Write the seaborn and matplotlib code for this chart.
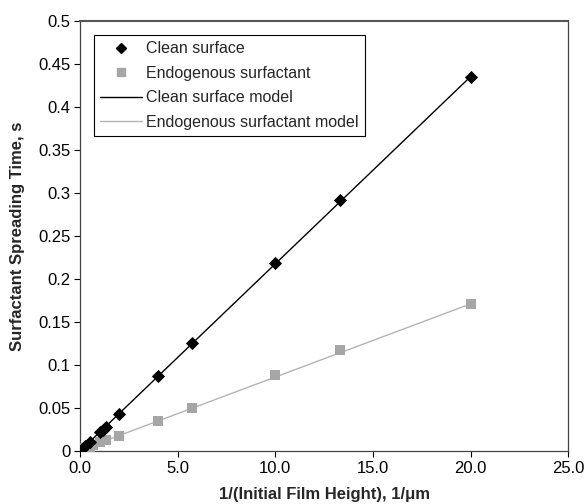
import matplotlib
matplotlib.use("Agg")
import matplotlib.pyplot as plt
import seaborn as sns
import pandas as pd
from matplotlib.lines import Line2D

# Data
clean_x = [0.1, 0.25, 0.5, 1.0, 1.18, 1.33, 2.0, 4.0, 5.71, 10.0, 13.33, 20.0]
clean_y = [0.002, 0.006, 0.011, 0.022, 0.025, 0.028, 0.043, 0.087, 0.125, 0.219, 0.292, 0.435]
endo_x = [0.1, 0.25, 0.5, 0.67, 1.0, 1.33, 2.0, 4.0, 5.71, 10.0, 13.33, 20.0]
endo_y = [0.002, 0.003, 0.005, 0.007, 0.010, 0.013, 0.017, 0.035, 0.050, 0.088, 0.117, 0.171]
model_x = [0.0, 20.0]
clean_model_y = [0.0, 0.435]
endo_model_y = [0.001, 0.171]

x_ticks = [0, 5, 10, 15, 20, 25]
x_tick_labels = ["0.0", "5.0", "10.0", "15.0", "20.0", "25.0"]
y_ticks = [0, 0.05, 0.1, 0.15, 0.2, 0.25, 0.3, 0.35, 0.4, 0.45, 0.5]
y_tick_labels = ["0", "0.05", "0.1", "0.15", "0.2", "0.25", "0.3", "0.35", "0.4", "0.45", "0.5"]

sns.set_style("ticks")
plt.rcParams['font.family'] = ['Liberation Sans', 'DejaVu Sans']

fig = plt.figure(figsize=(5.84, 5.04), dpi=100)
ax = fig.add_axes([0.137, 0.105, 0.836, 0.854])

df_clean = pd.DataFrame({"x": clean_x, "y": clean_y})
df_endo = pd.DataFrame({"x": endo_x, "y": endo_y})
df_cm = pd.DataFrame({"x": model_x, "y": clean_model_y})
df_em = pd.DataFrame({"x": model_x, "y": endo_model_y})

sns.lineplot(data=df_em, x="x", y="y", ax=ax, color="#b4b4b4", linewidth=1.0,
             label="_em", zorder=2)
sns.lineplot(data=df_cm, x="x", y="y", ax=ax, color="black", linewidth=1.0,
             label="_cm", zorder=2)
sns.scatterplot(data=df_endo, x="x", y="y", ax=ax, marker="s", color="#a6a6a6",
                s=45, edgecolor="#a6a6a6", linewidth=0, label="_e", zorder=3)
sns.scatterplot(data=df_clean, x="x", y="y", ax=ax, marker="D", color="black",
                s=45, edgecolor="black", linewidth=0, label="_c", zorder=4)

handles = [
    Line2D([], [], marker="D", color="black", linestyle="none", markersize=5),
    Line2D([], [], marker="s", color="#a6a6a6", linestyle="none", markersize=5.5),
    Line2D([], [], color="black", linewidth=1.0),
    Line2D([], [], color="#b4b4b4", linewidth=1.0),
]
labels = ["Clean surface", "Endogenous surfactant", "Clean surface model",
          "Endogenous surfactant model"]
leg = ax.legend(handles, labels, loc="upper left", bbox_to_anchor=(0.0287, 0.967),
                borderaxespad=0, frameon=True, fancybox=False, fontsize=11.5,
                handlelength=2.6, borderpad=0.4, labelspacing=0.6,
                handletextpad=0.25)
leg.get_frame().set_edgecolor("black")
leg.get_frame().set_linewidth(0.8)
leg.get_frame().set_alpha(1)

ax.set_xlim(0, 25)
ax.set_ylim(0, 0.5)
ax.set_xticks(x_ticks)
ax.set_xticklabels(x_tick_labels)
ax.set_yticks(y_ticks)
ax.set_yticklabels(y_tick_labels)
ax.tick_params(axis="both", labelsize=12, direction="out", length=4, width=0.8,
               colors="black", pad=3)
for sp in ax.spines.values():
    sp.set_visible(True)
    sp.set_color("#444444")
    sp.set_linewidth(0.9)
ax.spines["top"].set_linewidth(1.5)
ax.spines["top"].set_color("#555555")

ax.set_xlabel("1/(Initial Film Height), 1/\u03bcm", fontsize=12, fontweight="bold",
              labelpad=8)
ax.set_ylabel("Surfactant Spreading Time, s", fontsize=12, fontweight="bold",
              labelpad=9)

fig.savefig("out.png", dpi=100)
